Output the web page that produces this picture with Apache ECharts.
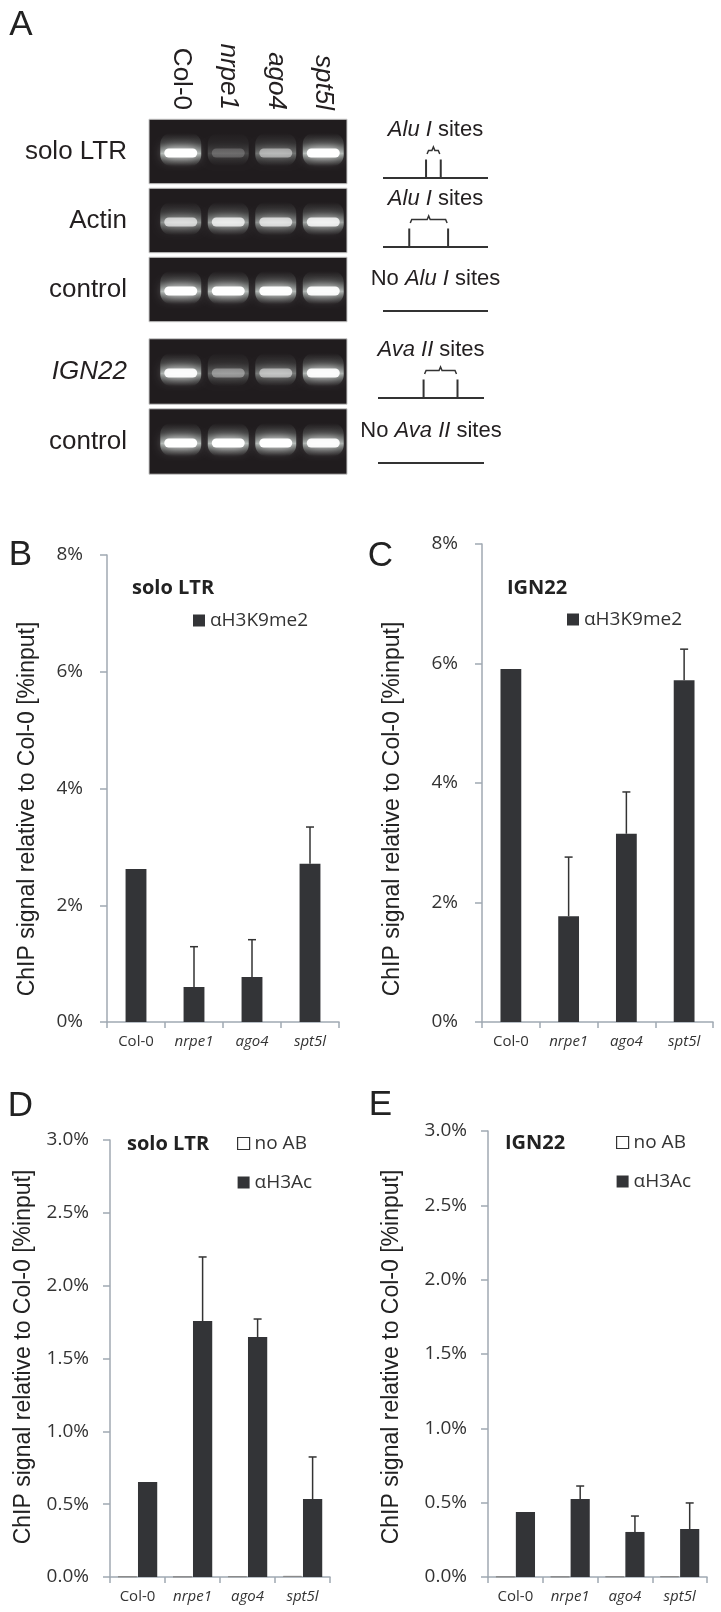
<!DOCTYPE html>
<html><head><meta charset="utf-8">
<script src="https://cdn.jsdelivr.net/npm/echarts@6/dist/echarts.min.js"></script>
<style>html,body{margin:0;padding:0;background:#fff}#c{width:721px;height:1612px}</style>
</head><body><div id="c"></div>
<script>
// ---------- Panel A data ----------
const lanes = ['Col-0', 'nrpe1', 'ago4', 'spt5l'];
const gelRowsTop = ['solo LTR', 'Actin', 'control'];
const gelRowsBottom = ['IGN22', 'control'];
// relative band brightness per gel row (rows in order top->bottom), per lane
const bandIntensity = [
  [1.0, 0.28, 0.55, 1.0],
  [0.72, 0.8, 0.75, 0.85],
  [1.0, 1.0, 0.98, 0.95],
  [0.95, 0.45, 0.6, 0.95],
  [1.0, 1.0, 1.0, 0.95]
];
const siteEnzyme = ['Alu I', 'Alu I', 'Alu I', 'Ava II', 'Ava II'];
const sitePositions = [[41, 55], [25, 62], [], [43, 75], []]; // % along fragment

// ---------- Panels B-E data ----------
const genotypes = ['Col-0', 'nrpe1', 'ago4', 'spt5l'];
const yTicksBC = [0, 2, 4, 6, 8];
const yTicksDE = [0, 0.5, 1.0, 1.5, 2.0, 2.5, 3.0];
const h3k9SoloLTR = [2.62, 0.60, 0.77, 2.71];
const h3k9SoloLTRErr = [0, 0.69, 0.64, 0.63];
const h3k9IGN22 = [5.91, 1.77, 3.15, 5.72];
const h3k9IGN22Err = [0, 0.99, 0.70, 0.52];
const noABSoloLTR = [0.004, 0.003, 0.005, 0.008];
const h3acSoloLTR = [0.652, 1.757, 1.647, 0.535];
const h3acSoloLTRErr = [0, 0.44, 0.124, 0.289];
const noABIGN22 = [0.003, 0.003, 0.004, 0.005];
const h3acIGN22 = [0.437, 0.525, 0.303, 0.323];
const h3acIGN22Err = [0, 0.087, 0.107, 0.175];

// ---------- styles ----------
const FA = '"Liberation Sans", Arial, sans-serif';
const FB = '"Open Sans", sans-serif';
const TXT = '#231f20';
const DARK = '#333437';
const AXIS = '#a0a9b2';

const chart = echarts.init(document.getElementById('c'), null, {renderer: 'canvas'});

function renderGelBg(params, api) {
  const cs = params.coordSys;
  const row = api.value(1);
  const c = api.coord([0, row]);
  const h = api.size([1, 1])[1] * 0.935;
  return {type: 'rect', shape: {x: cs.x - 8, y: c[1] - h / 2, width: cs.width + 8, height: h},
    style: {fill: '#201c1e', stroke: '#c9c9c9', lineWidth: 1}};
}
function renderBand(params, api) {
  const lane = api.value(0), row = api.value(1), I = api.value(2);
  const c = api.coord([lane, row]);
  const w = api.size([1, 1])[0] * 0.82;
  const cx = c[0], cy = c[1] + 1.5;
  return {type: 'group', children: [
    {type: 'rect', shape: {x: cx - w / 2 - 1, y: cy - 20, width: w + 2, height: 33, r: 11},
      style: {fill: {type: 'linear', x: 0, y: 0, x2: 0, y2: 1, colorStops: [
        {offset: 0, color: 'rgba(150,160,155,0)'},
        {offset: 0.3, color: 'rgba(150,160,155,' + (0.25 * I) + ')'},
        {offset: 0.62, color: 'rgba(215,225,220,' + (0.75 * I) + ')'},
        {offset: 0.85, color: 'rgba(150,160,155,' + (0.3 * I) + ')'},
        {offset: 1, color: 'rgba(150,160,155,0)'}]}}},
    {type: 'rect', shape: {x: cx - w / 2 + 3, y: cy - 4.5, width: w - 6, height: 9, r: 4.5},
      style: {fill: 'rgba(255,255,255,' + Math.pow(I, 1.3) + ')', shadowBlur: 12, shadowColor: 'rgba(255,255,255,' + (0.85 * I) + ')'}}
  ]};
}
function renderDiagram(params, api) {
  const row = api.value(1), g = api.value(2);
  const sites = sitePositions[g];
  const L = api.coord([0, row]), R = api.coord([100, row]);
  const cy = L[1];
  const has = sites.length > 0;
  const lineY = cy + (has ? 26.5 : 21.5);
  const textY = cy + (has ? -21.5 : -10.5);
  const children = [
    {type: 'line', shape: {x1: L[0], y1: lineY, x2: R[0], y2: lineY}, style: {stroke: '#333', lineWidth: 2}},
    {type: 'text', x: (L[0] + R[0]) / 2, y: textY, style: {
      text: (has ? '' : 'No ') + '{i|' + siteEnzyme[g] + '} sites',
      rich: {i: {fontStyle: 'italic', fontSize: 22, fontFamily: FA, fill: TXT}},
      fontSize: 22, fontFamily: FA, fill: TXT, align: 'center', verticalAlign: 'middle'}}
  ];
  if (has) {
    const xs = sites.map(s => api.coord([s, row])[0]);
    xs.forEach(x => children.push({type: 'line', shape: {x1: x, y1: cy + 8, x2: x, y2: lineY}, style: {stroke: '#333', lineWidth: 2}}));
    const xa = xs[0] + 1, xb = xs[1] - 1, xm = (xa + xb) / 2, yb = cy + 2.5, h = 7;
    children.push({type: 'polyline', shape: {points: [[xa, yb], [xa + 1.5, yb - h / 2], [xm - 1.5, yb - h / 2], [xm, yb - h], [xm + 1.5, yb - h / 2], [xb - 1.5, yb - h / 2], [xb, yb]]},
      style: {stroke: '#333', lineWidth: 1.5, fill: null}});
  }
  return {type: 'group', children: children};
}
function errRender(offsetFactor) {
  return function (params, api) {
    const cat = api.value(0), v = api.value(1), e = api.value(2);
    if (!(e > 0)) return null;
    const p0 = api.coord([cat, v]), p1 = api.coord([cat, v + e]);
    const x = p0[0] + offsetFactor * api.size([1, 0])[0];
    return {type: 'group', children: [
      {type: 'line', shape: {x1: x, y1: p0[1], x2: x, y2: p1[1]}, style: {stroke: '#333', lineWidth: 1.5}},
      {type: 'line', shape: {x1: x - 4, y1: p1[1], x2: x + 4, y2: p1[1]}, style: {stroke: '#333', lineWidth: 1.5}}
    ]};
  };
}
const italicFmt = v => v === 'Col-0' ? v : '{i|' + v + '}';

function barXAxis(gi) {
  return {gridIndex: gi, type: 'category', data: genotypes,
    axisLine: {lineStyle: {color: AXIS, width: 1.5}},
    axisTick: {show: true, length: 6, lineStyle: {color: AXIS, width: 1.5}},
    axisLabel: {margin: 12, interval: 0, fontSize: 15, fontFamily: FB, color: '#333', formatter: italicFmt,
      rich: {i: {fontStyle: 'italic', fontSize: 15, fontFamily: FB, color: '#333'}}}};
}
function barYAxis(gi, ticks, dec, margin) {
  return {gridIndex: gi, type: 'value', min: ticks[0], max: ticks[ticks.length - 1], interval: ticks[1] - ticks[0],
    splitLine: {show: false},
    axisLine: {show: true, lineStyle: {color: AXIS, width: 1.5}},
    axisTick: {show: true, length: 7, lineStyle: {color: AXIS, width: 1.5}},
    axisLabel: {margin: margin, fontSize: 19, fontFamily: FB, color: '#333', formatter: v => v.toFixed(dec) + '%'}};
}

const grids = [
  {left: 157, top: 117, width: 190, height: 207},
  {left: 157, top: 336.5, width: 190, height: 140},
  {left: 383, top: 117, width: 105, height: 207},
  {left: 378, top: 336.5, width: 106, height: 140},
  {left: 107, top: 555, width: 232, height: 467},
  {left: 482, top: 544, width: 231, height: 478},
  {left: 110, top: 1140, width: 220, height: 437},
  {left: 488, top: 1131, width: 219, height: 446}
].map(g => Object.assign({outerBoundsMode: 'none', containLabel: false}, g));

const gelRowLabel = {margin: 30, interval: 0, fontSize: 26, fontFamily: FA, color: TXT,
  formatter: v => v === 'IGN22' ? '{i|IGN22}' : v, rich: {i: {fontStyle: 'italic', fontSize: 26, fontFamily: FA, color: TXT}}};

const xAxes = [
  {gridIndex: 0, type: 'category', data: lanes, position: 'top', axisLine: {show: false}, axisTick: {show: false},
    axisLabel: {rotate: 90, margin: 7, interval: 0, fontSize: 26, fontFamily: FA, color: TXT, formatter: italicFmt,
      rich: {i: {fontStyle: 'italic', fontSize: 26, fontFamily: FA, color: TXT}}}},
  {gridIndex: 1, type: 'category', data: lanes, show: false},
  {gridIndex: 2, type: 'value', min: 0, max: 100, show: false},
  {gridIndex: 3, type: 'value', min: 0, max: 100, show: false},
  barXAxis(4), barXAxis(5), barXAxis(6), barXAxis(7)
];
const yAxes = [
  {gridIndex: 0, type: 'category', data: gelRowsTop, inverse: true, axisLine: {show: false}, axisTick: {show: false}, axisLabel: gelRowLabel},
  {gridIndex: 1, type: 'category', data: gelRowsBottom, inverse: true, axisLine: {show: false}, axisTick: {show: false}, axisLabel: gelRowLabel},
  {gridIndex: 2, type: 'category', data: gelRowsTop, inverse: true, show: false},
  {gridIndex: 3, type: 'category', data: gelRowsBottom, inverse: true, show: false},
  barYAxis(4, yTicksBC, 0, 24), barYAxis(5, yTicksBC, 0, 24),
  barYAxis(6, yTicksDE, 1, 21), barYAxis(7, yTicksDE, 1, 21)
];

function bandData(rowOffset, nRows) {
  const d = [];
  for (let r = 0; r < nRows; r++) lanes.forEach((l, i) => d.push([i, r, bandIntensity[rowOffset + r][i]]));
  return d;
}
const series = [
  {type: 'custom', name: 'gelbg1', xAxisIndex: 0, yAxisIndex: 0, renderItem: renderGelBg, clip: false, z: 1, data: gelRowsTop.map((r, i) => [0, i])},
  {type: 'custom', name: 'gelbg2', xAxisIndex: 1, yAxisIndex: 1, renderItem: renderGelBg, clip: false, z: 1, data: gelRowsBottom.map((r, i) => [0, i])},
  {type: 'custom', name: 'bands1', xAxisIndex: 0, yAxisIndex: 0, renderItem: renderBand, clip: false, z: 2, data: bandData(0, 3)},
  {type: 'custom', name: 'bands2', xAxisIndex: 1, yAxisIndex: 1, renderItem: renderBand, clip: false, z: 2, data: bandData(3, 2)},
  {type: 'custom', name: 'diag1', xAxisIndex: 2, yAxisIndex: 2, renderItem: renderDiagram, clip: false, data: gelRowsTop.map((r, i) => [0, i, i])},
  {type: 'custom', name: 'diag2', xAxisIndex: 3, yAxisIndex: 3, renderItem: renderDiagram, clip: false, data: gelRowsBottom.map((r, i) => [0, i, i + 3])},
  // B
  {type: 'bar', name: 'αH3K9me2', xAxisIndex: 4, yAxisIndex: 4, data: h3k9SoloLTR, barWidth: '36%', itemStyle: {color: DARK}},
  {type: 'custom', name: 'errB', xAxisIndex: 4, yAxisIndex: 4, renderItem: errRender(0), clip: false, z: 3,
    data: genotypes.map((g, i) => [i, h3k9SoloLTR[i], h3k9SoloLTRErr[i]])},
  // C
  {type: 'bar', name: 'αH3K9me2', xAxisIndex: 5, yAxisIndex: 5, data: h3k9IGN22, barWidth: '36%', itemStyle: {color: DARK}},
  {type: 'custom', name: 'errC', xAxisIndex: 5, yAxisIndex: 5, renderItem: errRender(0), clip: false, z: 3,
    data: genotypes.map((g, i) => [i, h3k9IGN22[i], h3k9IGN22Err[i]])},
  // D
  {type: 'bar', name: 'no AB', xAxisIndex: 6, yAxisIndex: 6, data: noABSoloLTR, barWidth: '35%', barGap: '5%', itemStyle: {color: '#fff', borderColor: '#8a8a8a', borderWidth: 1}},
  {type: 'bar', name: 'αH3Ac', xAxisIndex: 6, yAxisIndex: 6, data: h3acSoloLTR, barWidth: '35%', barGap: '5%', itemStyle: {color: DARK}},
  {type: 'custom', name: 'errD', xAxisIndex: 6, yAxisIndex: 6, renderItem: errRender(0.525 * 0.35), clip: false, z: 3,
    data: genotypes.map((g, i) => [i, h3acSoloLTR[i], h3acSoloLTRErr[i]])},
  // E
  {type: 'bar', name: 'no AB', xAxisIndex: 7, yAxisIndex: 7, data: noABIGN22, barWidth: '35%', barGap: '5%', itemStyle: {color: '#fff', borderColor: '#8a8a8a', borderWidth: 1}},
  {type: 'bar', name: 'αH3Ac', xAxisIndex: 7, yAxisIndex: 7, data: h3acIGN22, barWidth: '35%', barGap: '5%', itemStyle: {color: DARK}},
  {type: 'custom', name: 'errE', xAxisIndex: 7, yAxisIndex: 7, renderItem: errRender(0.525 * 0.35), clip: false, z: 3,
    data: genotypes.map((g, i) => [i, h3acIGN22[i], h3acIGN22Err[i]])}
];

const legendText = {fontSize: 19, fontFamily: FB, color: '#333'};
const legends = [
  {left: 193, top: 611, data: ['αH3K9me2']},
  {left: 567, top: 610, data: ['αH3K9me2']},
  {left: 237, top: 1134, orient: 'vertical', itemGap: 20,
    data: [{name: 'no AB', itemStyle: {color: '#fff', borderColor: '#333', borderWidth: 1.2}}, {name: 'αH3Ac'}]},
  {left: 616, top: 1133, orient: 'vertical', itemGap: 20,
    data: [{name: 'no AB', itemStyle: {color: '#fff', borderColor: '#333', borderWidth: 1.2}}, {name: 'αH3Ac'}]}
].map(l => Object.assign({padding: 0, itemWidth: 12, itemHeight: 12, icon: 'rect', selectedMode: false, textStyle: legendText}, l));

const letter = (t, x, y) => ({type: 'text', x: x, y: y, style: {text: t, fontSize: 35, fontFamily: FA, fill: '#222', align: 'center', verticalAlign: 'middle'}});
const ptitle = (t, x, y) => ({type: 'text', x: x, y: y, style: {text: t, fontSize: 20, fontWeight: 'bold', fontFamily: FB, fill: '#222', align: 'left', verticalAlign: 'middle'}});
const yname = (x, y) => ({type: 'text', x: x, y: y, rotation: Math.PI / 2, style: {text: 'ChIP signal relative to Col-0 [%input]', fontSize: 23, fontFamily: FA, fill: '#222', align: 'center', verticalAlign: 'middle'}});

chart.setOption({
  animation: false,
  backgroundColor: '#fff',
  grid: grids,
  xAxis: xAxes,
  yAxis: yAxes,
  legend: legends,
  series: series,
  graphic: [
    letter('A', 21, 25), letter('B', 20.5, 555), letter('C', 380.5, 556), letter('D', 20.5, 1106), letter('E', 380.5, 1105),
    ptitle('solo LTR', 132, 588), ptitle('IGN22', 507, 588), ptitle('solo LTR', 127, 1144), ptitle('IGN22', 505, 1143),
    yname(28, 809), yname(393, 809), yname(24, 1357), yname(392, 1357)
  ]
});
</script></body></html>
